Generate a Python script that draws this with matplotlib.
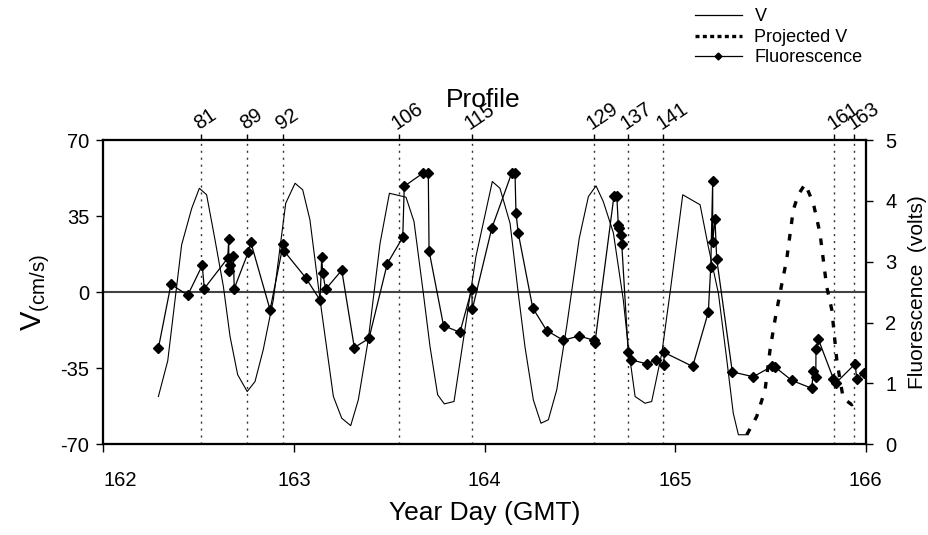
import matplotlib
matplotlib.use("Agg")
import matplotlib.pyplot as plt
from matplotlib.lines import Line2D

plt.rcParams['font.family'] = ['Liberation Sans', 'DejaVu Sans']
plt.rcParams['mathtext.fontset'] = 'custom'
plt.rcParams['mathtext.rm'] = 'Liberation Sans'
plt.rcParams['axes.unicode_minus'] = False

# measured velocity
day_v = [162.289, 162.338, 162.411, 162.464, 162.504, 162.542, 162.586, 162.630, 162.665, 162.705,
         162.755, 162.796, 162.839, 162.892, 162.957, 163.006, 163.046, 163.084, 163.137, 163.207,
         163.251, 163.298, 163.338, 163.390, 163.452, 163.501, 163.588, 163.630, 163.679, 163.714,
         163.754, 163.789, 163.840, 163.955, 164.041, 164.081, 164.134, 164.177, 164.212, 164.256,
         164.296, 164.335, 164.379, 164.431, 164.497, 164.545, 164.585, 164.623, 164.676, 164.728,
         164.754, 164.790, 164.842, 164.877, 164.930, 164.973, 165.040, 165.131, 165.174, 165.227,
         165.271, 165.305, 165.332, 165.376]
v = [-48.0, -31.6, 21.8, 38.6, 47.8, 44.8, 24.1, 2.6, -20.4, -38.0,
     -45.7, -41.1, -26.5, -3.5, 40.9, 50.1, 47.1, 33.3, -3.5, -48.0,
     -58.0, -61.4, -49.5, -21.9, 22.5, 45.5, 43.7, 32.5, -0.5, -25.0,
     -47.2, -51.4, -50.3, 16.4, 50.9, 47.8, 31.7, -0.5, -25.0, -49.5,
     -60.3, -58.7, -44.9, -15.8, 24.8, 44.0, 48.9, 41.7, 27.3, -3.5,
     -25.0, -48.0, -51.1, -50.3, -28.1, -0.5, 44.8, 40.2, 21.0, -0.5,
     -31.1, -55.7, -65.6, -65.6]

# projected velocity
day_proj = [165.376, 165.428, 165.472, 165.498, 165.524, 165.550, 165.585, 165.620, 165.646, 165.682,
            165.725, 165.760, 165.795, 165.822, 165.848, 165.865, 165.882, 165.927, 165.970]
v_proj = [-65.6, -57.2, -44.9, -26.5, -12.7, -0.5, 14.9, 37.9, 44.8, 49.8,
          40.9, 27.1, 2.6, -8.1, -31.1, -40.3, -48.8, -51.8, -48.8]

# fluorescence (volts)
day_f = [162.289, 162.355, 162.443, 162.519, 162.530, 162.653, 162.658, 162.658, 162.665, 162.682,
         162.687, 162.761, 162.773, 162.875, 162.944, 162.950, 163.061, 163.137, 163.146, 163.151,
         163.167, 163.251, 163.317, 163.394, 163.490, 163.571, 163.579, 163.679, 163.705, 163.709,
         163.785, 163.871, 163.933, 163.936, 164.038, 164.143, 164.160, 164.165, 164.177, 164.253,
         164.326, 164.413, 164.496, 164.574, 164.579, 164.679, 164.694, 164.702, 164.706, 164.716,
         164.720, 164.754, 164.767, 164.854, 164.898, 164.942, 164.942, 165.092, 165.174, 165.187,
         165.197, 165.197, 165.209, 165.218, 165.300, 165.410, 165.507, 165.524, 165.612, 165.717,
         165.725, 165.738, 165.739, 165.751, 165.830, 165.844, 165.944, 165.953, 165.991]
fluor = [1.58, 2.63, 2.45, 2.94, 2.56, 3.06, 3.37, 2.84, 2.95, 3.10,
         2.56, 3.16, 3.33, 2.21, 3.29, 3.17, 2.74, 2.37, 3.08, 2.81,
         2.55, 2.86, 1.59, 1.74, 2.97, 3.40, 4.24, 4.46, 4.46, 3.18,
         1.95, 1.84, 2.55, 2.22, 3.55, 4.46, 4.46, 3.80, 3.47, 2.24,
         1.87, 1.71, 1.78, 1.71, 1.66, 4.08, 4.08, 3.60, 3.55, 3.44,
         3.29, 1.51, 1.39, 1.32, 1.39, 1.30, 1.51, 1.28, 2.17, 2.92,
         4.32, 3.33, 3.71, 3.05, 1.19, 1.11, 1.28, 1.27, 1.05, 0.92,
         1.21, 1.11, 1.56, 1.73, 1.08, 1.01, 1.32, 1.08, 1.17]

# CTD profile numbers and their times
profile_days = [162.513, 162.754, 162.943, 163.552, 163.933, 164.573, 164.751, 164.938, 165.835, 165.940]
profile_labels = ['81', '89', '92', '106', '115', '129', '137', '141', '161', '163']

fig = plt.figure(figsize=(9.29, 5.35), dpi=100)
ax = fig.add_axes([0.1112, 0.1695, 0.8207, 0.5688])
ax2 = ax.twinx()
ax3 = ax.twiny()

ax.set_xlim(162, 166)
ax.set_ylim(-70, 70)
ax2.set_ylim(0, 5)
ax3.set_xlim(162, 166)

for d in profile_days:
    ax.axvline(d, color='#333333', lw=1.0, linestyle=(0, (1.5, 3.5)), zorder=1)
ax.axhline(0, color='#444444', lw=1.5, zorder=1)

ax.plot(day_v, v, color='black', lw=0.8, zorder=3)
ax.plot(day_proj, v_proj, color='black', lw=2.4, linestyle=(0, (2.0, 3.0)), zorder=3)
ax2.plot(day_f, fluor, color='black', lw=0.9, marker='D', ms=5.2, zorder=4)

ax.set_xticks([162, 163, 164, 165, 166])
ax.set_yticks([-70, -35, 0, 35, 70])
ax2.set_yticks([0, 1, 2, 3, 4, 5])
ax.tick_params(axis='x', direction='out', length=6, width=1, labelsize=14.5, pad=13)
ax.tick_params(axis='y', direction='out', length=5, width=1, labelsize=14.5, pad=5)
ax2.tick_params(axis='y', direction='out', length=5, width=1, labelsize=14.5, pad=9)
ax.get_xticklabels()[0].set_horizontalalignment('left')

ax3.set_xticks(profile_days)
ax3.set_xticklabels(profile_labels, rotation=34, ha='left', va='bottom', rotation_mode='anchor')
ax3.tick_params(axis='x', direction='out', length=4, width=1, labelsize=14.5, pad=1)

for a in (ax, ax2, ax3):
    for s in a.spines.values():
        s.set_linewidth(1.5)

ax.set_xlabel('Year Day (GMT)', fontsize=19, labelpad=8)
ax.set_ylabel(r'V$_{\mathrm{(cm/s)}}$', fontsize=21, labelpad=6)
ax2.set_ylabel('Fluorescence  (volts)', fontsize=15, labelpad=8)
fig.text(0.52, 0.79, 'Profile', fontsize=19, ha='center', va='bottom')

handles = [Line2D([], [], color='black', lw=0.9),
           Line2D([], [], color='black', lw=2.4, linestyle=(0, (1.2, 1.0))),
           Line2D([], [], color='black', lw=0.9, marker='D', ms=3.5)]
fig.legend(handles, ['V', 'Projected V', 'Fluorescence'], loc='upper right',
           bbox_to_anchor=(0.946, 1.015), frameon=False, fontsize=13,
           handlelength=2.6, handletextpad=0.7, labelspacing=0.2)

fig.savefig('out.png', dpi=100)
